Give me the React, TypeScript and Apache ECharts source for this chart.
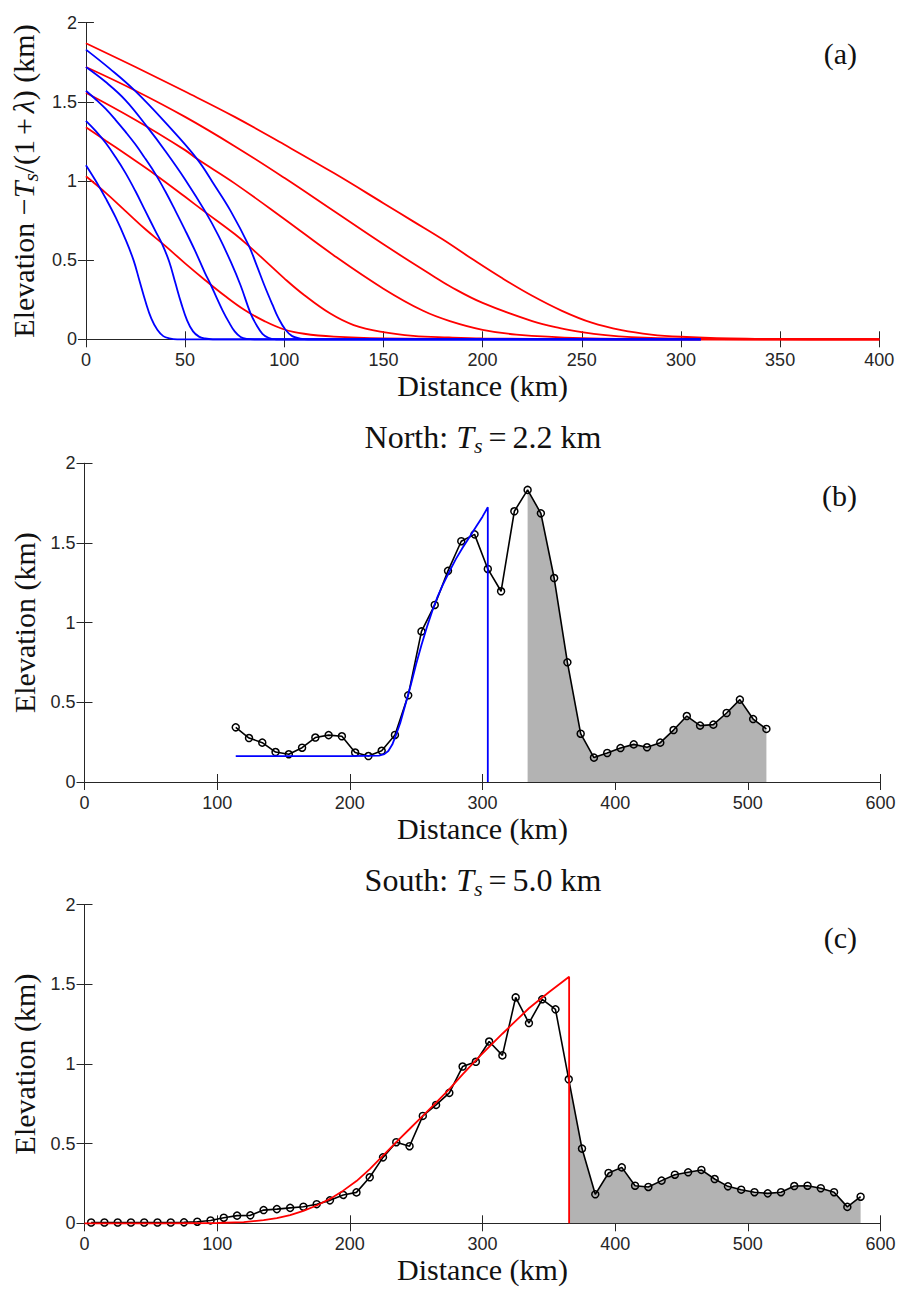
import React, { useEffect, useRef } from "react";
import * as echarts from "echarts";

// ---------- Panel (a): theoretical profiles ----------
const redA1 = [[0,1.03],[10,0.925],[20,0.81],[30,0.695],[40,0.59],[50,0.48],[60,0.375],[70,0.275],[80,0.185],[90,0.115],[100,0.062],[110,0.035],[125,0.017],[150,0.006],[200,0.001],[400,0]];
const redA2 = [[0,1.34],[10,1.255],[20,1.17],[35,1.04],[50,0.9],[60,0.805],[75,0.665],[82.5,0.585],[90,0.5],[100,0.385],[110,0.28],[123,0.164],[135,0.09],[150,0.045],[165,0.022],[183,0.012],[200,0.006],[250,0.001],[300,0],[400,0]];
const redA3 = [[0,1.557],[25,1.385],[50,1.195],[56,1.14],[75,0.985],[100,0.76],[125,0.53],[150,0.32],[170,0.18],[183.5,0.115],[200,0.06],[217,0.03],[250,0.008],[300,0.001],[400,0]];
const redA4 = [[0,1.72],[24.3,1.575],[50,1.405],[75,1.22],[100,1.02],[125,0.81],[150,0.6],[175,0.4],[183.5,0.335],[200,0.23],[225,0.115],[239,0.07],[250,0.045],[262,0.026],[275,0.014],[300,0.004],[350,0],[400,0]];
const redA5 = [[0,1.87],[25,1.72],[50,1.565],[75,1.405],[100,1.23],[125,1.05],[150,0.86],[165,0.745],[180,0.63],[195,0.505],[210,0.385],[225,0.275],[240,0.18],[255,0.105],[270,0.058],[285,0.03],[300,0.016],[325,0.005],[350,0.001],[400,0]];

const blueA1 = [[0,1.1],[5,1.0],[10,0.89],[15,0.77],[20,0.63],[24,0.5],[27,0.37],[30,0.24],[33,0.13],[36,0.06],[39,0.02],[42,0.006],[46,0],[310,0]];
const blueA2 = [[0,1.38],[5,1.315],[10,1.24],[15,1.15],[20,1.05],[25,0.935],[30,0.81],[35,0.685],[38.5,0.6],[42,0.49],[45,0.36],[48,0.23],[51,0.12],[54,0.05],[57,0.017],[60,0.005],[64,0],[310,0]];
const blueA3 = [[0,1.57],[5,1.515],[10,1.455],[15,1.385],[20,1.31],[25,1.23],[30,1.14],[35,1.045],[40,0.935],[45,0.815],[50,0.69],[55,0.56],[60,0.42],[63,0.343],[66,0.26],[69,0.18],[72,0.11],[75,0.05],[78,0.015],[81,0.003],[85,0],[310,0]];
const blueA4 = [[0,1.72],[10,1.625],[20,1.51],[31,1.34],[40,1.19],[50,1.01],[60.5,0.8],[67,0.65],[73,0.49],[78,0.34],[83,0.164],[86,0.09],[89,0.035],[92,0.01],[96,0],[310,0]];
const blueA5 = [[0,1.83],[12,1.71],[24.3,1.575],[40,1.37],[56,1.14],[65,0.97],[73,0.81],[82,0.595],[86,0.47],[90,0.34],[94,0.22],[97,0.135],[100.6,0.06],[104,0.02],[108,0.005],[112,0],[310,0]];

// ---------- Panel (b): North ----------
const northDist = [114,124,134,144,154,164,174,184,194,204,214,224,234,244,254,264,274,284,294,304,314,324,334,344,354,364,374,384,394,404,414,424,434,444,454,464,474,484,494,504,514];
const northElev = [0.343,0.276,0.247,0.188,0.174,0.215,0.279,0.294,0.287,0.185,0.163,0.196,0.295,0.544,0.945,1.111,1.325,1.511,1.554,1.337,1.197,1.699,1.833,1.686,1.28,0.751,0.303,0.153,0.182,0.213,0.236,0.218,0.247,0.326,0.414,0.354,0.36,0.433,0.517,0.395,0.333];
const northFillStart = 334;
const northFit = [[114,0.163],[200,0.163],[222,0.165],[226,0.175],[229,0.195],[232,0.235],[235,0.3],[238,0.37],[242,0.49],[246,0.61],[250,0.74],[254,0.86],[258,0.97],[262,1.07],[266,1.16],[270,1.235],[275,1.32],[280,1.4],[285,1.47],[290,1.535],[295,1.6],[300,1.665],[304,1.724],[304,0]];

// ---------- Panel (c): South ----------
const southDist = [5,15,25,35,45,55,65,75,85,95,105,115,125,135,145,155,165,175,185,195,205,215,225,235,245,255,265,275,285,295,305,315,325,335,345,355,365,375,385,395,405,415,425,435,445,455,465,475,485,495,505,515,525,535,545,555,565,575,585];
const southElev = [0.005,0.005,0.005,0.005,0.005,0.005,0.005,0.006,0.01,0.018,0.035,0.048,0.05,0.083,0.089,0.097,0.104,0.12,0.144,0.178,0.194,0.289,0.414,0.509,0.484,0.674,0.743,0.819,0.984,1.014,1.141,1.054,1.418,1.257,1.406,1.343,0.904,0.469,0.182,0.316,0.351,0.236,0.228,0.268,0.305,0.32,0.335,0.278,0.232,0.211,0.195,0.188,0.195,0.234,0.236,0.22,0.195,0.103,0.167];
const southFillStart = 365;
const southFit = [[0,0],[60,0],[100,0.002],[120,0.008],[135,0.02],[145,0.033],[155,0.052],[165,0.078],[175,0.112],[185,0.153],[195,0.205],[205,0.265],[215,0.34],[225,0.425],[235,0.51],[245,0.592],[255,0.675],[265,0.758],[275,0.842],[285,0.935],[298,1.05],[315,1.19],[335,1.35],[350,1.45],[365.3,1.548],[365.3,0]];

const xTicksA = { min: 0, max: 400, interval: 50 };
const xTicksBC = { min: 0, max: 600, interval: 100 };
const yTicks = { min: 0, max: 2, interval: 0.5 };

const RED = "#ff0000";
const BLUE = "#0000ff";
const GREY = "#b3b3b3";
const AXIS = "#262626";
const TXT = "#111";
const SERIF = "'Liberation Serif', 'Times New Roman', serif";
const SANS = "'Liberation Sans', Arial, Helvetica, sans-serif";
const LABEL_FS = 30;
const TITLE_FS = 32;

const richAxis = {
  n: { fontFamily: SERIF, fontSize: LABEL_FS, color: TXT, lineHeight: 36 },
  i: { fontFamily: SERIF, fontSize: LABEL_FS, fontStyle: "italic", color: TXT, lineHeight: 36 },
  o: { fontFamily: SERIF, fontSize: LABEL_FS, color: TXT, lineHeight: 36, padding: [0, 5] },
  s: { fontFamily: SERIF, fontSize: 21, fontStyle: "italic", color: TXT, lineHeight: 21, verticalAlign: "bottom" },
};
const richTitle = {
  n: { fontFamily: SERIF, fontSize: TITLE_FS, fill: TXT, lineHeight: 38 },
  i: { fontFamily: SERIF, fontSize: TITLE_FS, fontStyle: "italic", fill: TXT, lineHeight: 38 },
  e: { fontFamily: SERIF, fontSize: TITLE_FS, fill: TXT, lineHeight: 38, padding: [0, 6] },
  s: { fontFamily: SERIF, fontSize: 22, fontStyle: "italic", fill: TXT, lineHeight: 22, verticalAlign: "bottom" },
};

function pairs(xs: number[], ys: number[]) {
  return xs.map((x, i) => [x, ys[i]]);
}

function buildOption() {
  const grids = [
    { left: 85.3, right: 19.7, top: 22.7, height: 316.6 },
    { left: 84.5, right: 18.5, top: 463.3, height: 318.7 },
    { left: 84.5, right: 18.5, top: 904.7, height: 318.6 },
  ];
  const axisLine = { show: true, lineStyle: { color: AXIS, width: 1 } };
  const axisTick = { show: true, inside: true, length: 8, lineStyle: { color: AXIS, width: 1 } };
  const label = { color: AXIS, fontFamily: SANS, fontSize: 18 };

  const xAxis: any[] = [];
  const yAxis: any[] = [];
  grids.forEach((_, g) => {
    const xt = g === 0 ? xTicksA : xTicksBC;
    xAxis.push({
      type: "value", gridIndex: g, position: "bottom", ...xt,
      axisLine, axisTick, splitLine: { show: false },
      axisLabel: { ...label, margin: 12, showMinLabel: true, showMaxLabel: true },
      name: "Distance (km)", nameLocation: "middle", nameGap: 31,
      nameTextStyle: { fontFamily: SERIF, fontSize: LABEL_FS, color: TXT },
    });
    xAxis.push({
      type: "value", gridIndex: g, position: "top", ...xt,
      axisLine, axisTick, splitLine: { show: false }, axisLabel: { show: false },
    });
    yAxis.push({
      type: "value", gridIndex: g, position: "left", ...yTicks,
      axisLine, axisTick, splitLine: { show: false },
      axisLabel: { ...label, margin: 9 },
      name: g === 0 ? "{n|Elevation −}{i|T}{s|s}{n|/(1}{o|+}{i|λ}{n|) (km)}" : "{n|Elevation (km)}",
      nameLocation: "middle", nameGap: 42, nameRotate: 90,
      nameTextStyle: { rich: richAxis },
    });
    yAxis.push({
      type: "value", gridIndex: g, position: "right", ...yTicks,
      axisLine, axisTick, splitLine: { show: false }, axisLabel: { show: false },
    });
  });

  const lineA = (data: number[][], color: string) => ({
    type: "line", xAxisIndex: 0, yAxisIndex: 0, data, showSymbol: false, smooth: 0.4,
    clip: false, lineStyle: { color, width: 1.8 }, z: 3,
  });

  const northPts = pairs(northDist, northElev);
  const southPts = pairs(southDist, southElev);

  const dataLine = (data: number[][], xi: number) => ({
    type: "line", xAxisIndex: xi, yAxisIndex: xi, data, symbol: "circle", symbolSize: 7,
    showSymbol: true, lineStyle: { color: "#000", width: 1.6 },
    itemStyle: { color: "rgba(0,0,0,0)", borderColor: "#000", borderWidth: 1.5 }, z: 3,
  });
  const fill = (data: number[][], xi: number) => ({
    type: "line", xAxisIndex: xi, yAxisIndex: xi, data,
    showSymbol: false, lineStyle: { width: 0 }, areaStyle: { color: GREY, opacity: 1 }, z: 1,
  });
  const fit = (data: number[][], xi: number, color: string) => ({
    type: "line", xAxisIndex: xi, yAxisIndex: xi, data, showSymbol: false,
    lineStyle: { color, width: 1.8 }, clip: false, z: 4,
  });

  const series: any[] = [
    lineA(redA1, RED), lineA(redA2, RED), lineA(redA3, RED), lineA(redA4, RED), lineA(redA5, RED),
    lineA(blueA1, BLUE), lineA(blueA2, BLUE), lineA(blueA3, BLUE), lineA(blueA4, BLUE), lineA(blueA5, BLUE),
    fill(northPts.filter((p) => p[0] >= northFillStart), 2),
    dataLine(northPts, 2),
    fit(northFit, 2, BLUE),
    fill(southPts.filter((p) => p[0] >= southFillStart), 4),
    dataLine(southPts, 4),
    fit(southFit, 4, RED),
  ];

  const letter = (t: string, y: number) => ({
    type: "text", x: 857, y,
    style: { text: t, fontFamily: SERIF, fontSize: 30, fill: TXT, align: "right", verticalAlign: "middle" },
  });

  const graphic: any[] = [
    letter("(a)", 53), letter("(b)", 495), letter("(c)", 937),
    {
      type: "text", x: 483, y: 437,
      style: { text: "{n|North: }{i|T}{s|s}{e|=}{n|2.2 km}", rich: richTitle, align: "center", verticalAlign: "middle" },
    },
    {
      type: "text", x: 483, y: 880,
      style: { text: "{n|South: }{i|T}{s|s}{e|=}{n|5.0 km}", rich: richTitle, align: "center", verticalAlign: "middle" },
    },
  ];

  return { animation: false, backgroundColor: "#fff", grid: grids, xAxis, yAxis, series, graphic };
}

export default function App() {
  const ref = useRef<HTMLDivElement>(null);
  useEffect(() => {
    if (!ref.current) return;
    const chart = echarts.init(ref.current, undefined, { renderer: "svg" });
    chart.setOption(buildOption() as any);
    return () => chart.dispose();
  }, []);
  return (
    <div
      ref={ref}
      style={{ position: "absolute", left: 0, top: 0, width: 899, height: 1293, background: "#fff" }}
    />
  );
}
